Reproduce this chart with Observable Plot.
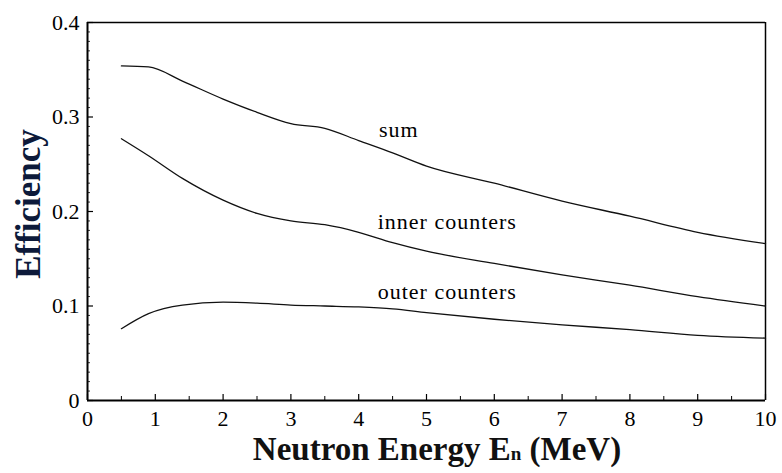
<!DOCTYPE html>
<html><head><meta charset="utf-8">
<script src="https://cdn.jsdelivr.net/npm/d3@7"></script>
<script src="https://cdn.jsdelivr.net/npm/@observablehq/plot@0.6"></script>
<style>body{margin:0;background:#fff} svg text, svg tspan{font-family:"Liberation Serif",serif !important}</style>
</head><body><div id="chart"></div>
<script>
const energy = [0.5, 0.9, 1.4, 2.0, 2.5, 3.0, 3.5, 4.0, 4.5, 5.0, 6.0, 7.0, 8.0, 9.0, 10.0];
const sumEff =   [0.354, 0.353, 0.338, 0.319, 0.305, 0.293, 0.288, 0.275, 0.262, 0.248, 0.230, 0.211, 0.195, 0.178, 0.166];
const innerEff = [0.277, 0.259, 0.235, 0.212, 0.198, 0.190, 0.186, 0.178, 0.167, 0.158, 0.145, 0.133, 0.122, 0.110, 0.100];
const outerEff = [0.076, 0.092, 0.101, 0.104, 0.103, 0.101, 0.100, 0.099, 0.097, 0.093, 0.086, 0.080, 0.075, 0.069, 0.066];
const seriesNames = ["sum", "inner counters", "outer counters"];
const labelX = [4.3, 4.28, 4.28];
const labelY = [0.286, 0.189, 0.115];
const xTicks = [0,1,2,3,4,5,6,7,8,9,10];
const yTicks = [0, 0.1, 0.2, 0.3, 0.4];
const yTickLabels = ["0", "0.1", "0.2", "0.3", "0.4"];

const series = [sumEff, innerEff, outerEff];
const rows = series.flatMap((s, k) => s.map((v, i) => ({x: energy[i], y: v, name: seriesNames[k]})));
const labels = seriesNames.map((n, k) => ({name: n, x: labelX[k], y: labelY[k]}));
const xMinor = d3.range(0.5, 10, 1);
const yMinor = d3.range(0, 41).map(i => i / 100).filter(v => Math.round(v * 100) % 10 !== 0);

const font = "Liberation Serif, serif";
const chart = Plot.plot({
  width: 782, height: 473,
  marginLeft: 87, marginRight: 17, marginTop: 22, marginBottom: 73,
  style: {fontFamily: font, fontSize: "22px", color: "#000", background: "#fff"},
  x: {domain: [0, 10]},
  y: {domain: [0, 0.4]},
  marks: [
    Plot.axisX({ticks: xTicks, tickSize: -6, tickPadding: 16, fontSize: 22, fontFamily: font, tickFormat: d => String(d), label: null, strokeWidth: 1.2}),
    Plot.axisX({ticks: xMinor, tickSize: -4, tickFormat: () => "", label: null, strokeWidth: 1}),
    Plot.axisY({ticks: yTicks, tickSize: -6, tickPadding: 14, fontSize: 22, fontFamily: font, tickFormat: (d, i) => yTickLabels[i], label: null, strokeWidth: 1.2}),
    Plot.axisY({ticks: yMinor, tickSize: -3, tickFormat: () => "", label: null, strokeWidth: 0.8}),
    Plot.ruleX([0], {stroke: "#000", strokeWidth: 2}),
    Plot.ruleY([0], {stroke: "#000", strokeWidth: 2}),
    Plot.ruleX([10], {stroke: "#000", strokeWidth: 1.5}),
    Plot.ruleY([0.4], {stroke: "#000", strokeWidth: 1.5}),
    Plot.line(rows, {x: "x", y: "y", z: "name", stroke: "#111", strokeWidth: 1.3, curve: "monotone-x"}),
    Plot.text(labels, {x: "x", y: "y", text: "name", textAnchor: "start", fontSize: 22, fontFamily: font, fill: "#000"})
  ]
});
const svg = d3.select(chart);
svg.selectAll("text").filter(function() { return this.textContent && /counters|sum/.test(this.textContent); })
  .attr("letter-spacing", "1px");
const t = svg.append("text")
  .attr("x", 437).attr("y", 460)
  .attr("text-anchor", "middle")
  .attr("font-family", font).attr("font-weight", "bold").attr("font-size", 33).attr("fill", "#111");
t.append("tspan").text("Neutron Energy E");
t.append("tspan").attr("font-size", 19).text("n");
t.append("tspan").text(" (MeV)");
svg.append("text")
  .attr("transform", "translate(40,204) rotate(-90)")
  .attr("text-anchor", "middle")
  .attr("font-family", font).attr("font-weight", "bold").attr("font-size", 35).attr("fill", "#0d1a3a")
  .text("Efficiency");
document.getElementById("chart").appendChild(chart);
</script>
</body></html>
